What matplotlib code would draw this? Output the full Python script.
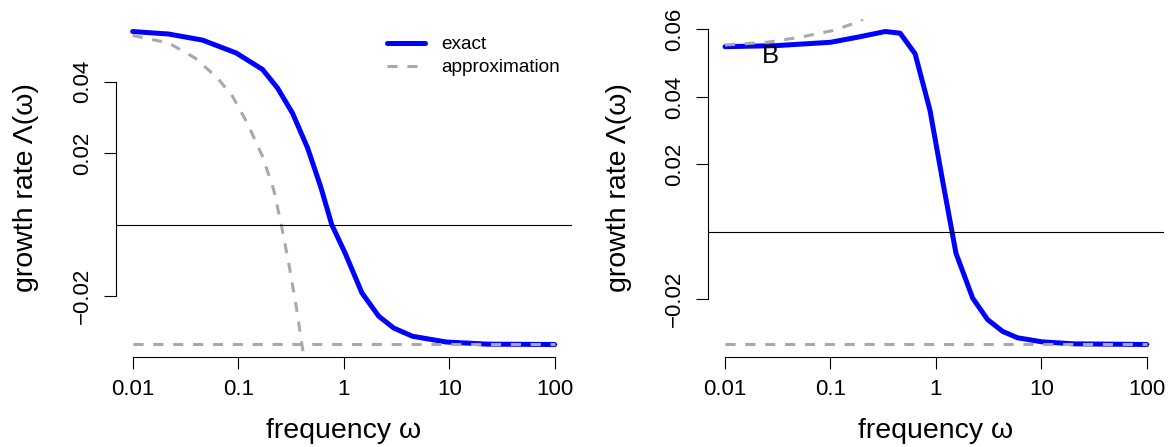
import numpy as np
import matplotlib
matplotlib.use("Agg")
from matplotlib import pyplot as plt

plt.rcParams['font.family'] = ['Liberation Sans', 'DejaVu Sans']

# panel A: exact growth rate and the two approximations
omega_exact_a = [0.01, 0.0219, 0.0459, 0.0957, 0.170, 0.236, 0.327, 0.454, 0.604,
                 0.771, 1.03, 1.49, 2.15, 2.98, 4.49, 9.35, 23.0, 100]
lam_exact_a = [0.0540, 0.0533, 0.0516, 0.0480, 0.0434, 0.0382, 0.0312, 0.0215, 0.0107,
               0.0, -0.0079, -0.0191, -0.0256, -0.0289, -0.0312, -0.0328, -0.0334, -0.0335]
omega_low_a = [0.01, 0.0219, 0.0390, 0.0637, 0.0883, 0.122, 0.170, 0.217, 0.256,
               0.301, 0.355, 0.418]
lam_low_a = [0.0529, 0.0508, 0.0466, 0.0410, 0.0359, 0.0284, 0.0191, 0.0098, 0.0,
             -0.0107, -0.0229, -0.0368]

# panel B
omega_exact_b = [0.01, 0.0301, 0.100, 0.180, 0.331, 0.458, 0.635, 0.879, 1.17,
                 1.55, 2.23, 3.09, 4.29, 5.93, 10.1, 20.1, 100]
lam_exact_b = [0.0549, 0.0552, 0.0562, 0.0577, 0.0594, 0.0589, 0.0528, 0.0360, 0.0143,
               -0.0064, -0.0197, -0.0261, -0.0296, -0.0315, -0.0327, -0.0333, -0.0335]
omega_low_b = [0.01, 0.0249, 0.0515, 0.106, 0.178, 0.203]
lam_low_b = [0.0554, 0.0562, 0.0577, 0.0597, 0.0621, 0.0630]

# high frequency limit (same in both panels)
omega_high = [0.01, 100]
lam_high = [-0.0335, -0.0335]

xticks = [0.01, 0.1, 1, 10, 100]
xlabels = ['0.01', '0.1', '1', '10', '100']
yticks_a = [-0.02, 0.02, 0.04]
ylabels_a = ['\u22120.02', '0.02', '0.04']
yticks_b = [-0.02, 0.02, 0.04, 0.06]
ylabels_b = ['\u22120.02', '0.02', '0.04', '0.06']

BLUE = '#0000ff'
GRAY = '#a9a9a9'
DASH = (0, (3.3, 3.2))


def setup_axis(ax, lam, yticks, ylabels):
    # R-like axes: 4% padding, axis lines only from first to last tick
    ax.set_xscale('log')
    ax.set_xlim(10 ** -2.16, 10 ** 2.16)
    lo, hi = min(lam), max(lam)
    r = hi - lo
    ax.set_ylim(lo - 0.04 * r, hi + 0.04 * r)
    for s in ['top', 'right']:
        ax.spines[s].set_visible(False)
    ax.spines['left'].set_bounds(yticks[0], yticks[-1])
    ax.spines['bottom'].set_bounds(xticks[0], xticks[-1])
    for s in ['left', 'bottom']:
        ax.spines[s].set_linewidth(0.8)
    ax.set_xticks(xticks)
    ax.set_xticklabels(xlabels)
    ax.xaxis.set_minor_locator(matplotlib.ticker.NullLocator())
    ax.set_yticks(yticks)
    ax.set_yticklabels(ylabels, rotation=90, va='center')
    ax.tick_params(axis='both', length=8.6, width=0.8, labelsize=16)
    ax.tick_params(axis='x', pad=7.3)
    ax.tick_params(axis='y', pad=8)
    ax.set_xlabel('frequency \u03c9', fontsize=20.5)
    ax.xaxis.label.set_va('baseline')
    ax.xaxis.set_label_coords(0.5, -0.2405)
    ax.set_ylabel('growth rate \u039b(\u03c9)', fontsize=20.5)
    ax.yaxis.label.set_va('center')
    ax.yaxis.set_label_coords(-0.196, 0.5)


fig = plt.figure(figsize=(11.72, 4.47), dpi=100)
ax1 = fig.add_axes([0.0988, 0.2013, 0.3889, 0.7562])
ax2 = fig.add_axes([0.6042, 0.2013, 0.3887, 0.7562])

ax1.plot(omega_exact_a, lam_exact_a, color=BLUE, lw=3.6, label='exact',
         solid_capstyle='round', solid_joinstyle='round')
ax1.plot(omega_low_a, lam_low_a, color=GRAY, lw=2.2, ls=DASH, label='approximation')
ax1.plot(omega_high, lam_high, color=GRAY, lw=2.2, ls=DASH)
ax1.axhline(0, color='black', lw=0.8)
setup_axis(ax1, lam_exact_a, yticks_a, ylabels_a)
ax1.legend(loc='upper left', bbox_to_anchor=(0.5943, 0.950), frameon=False,
           fontsize=13.7, borderpad=0, borderaxespad=0, handlelength=2.0,
           handletextpad=0.88, labelspacing=0.31)

ax2.plot(omega_exact_b, lam_exact_b, color=BLUE, lw=3.6,
         solid_capstyle='round', solid_joinstyle='round')
ax2.plot(omega_low_b, lam_low_b, color=GRAY, lw=2.2, ls=DASH)
ax2.plot(omega_high, lam_high, color=GRAY, lw=2.2, ls=DASH)
ax2.axhline(0, color='black', lw=0.8)
setup_axis(ax2, lam_exact_b, yticks_b, ylabels_b)
ax2.text(0.027, 0.052, 'B', fontsize=18.5, ha='center', va='center')

fig.savefig('out.png', dpi=100)
